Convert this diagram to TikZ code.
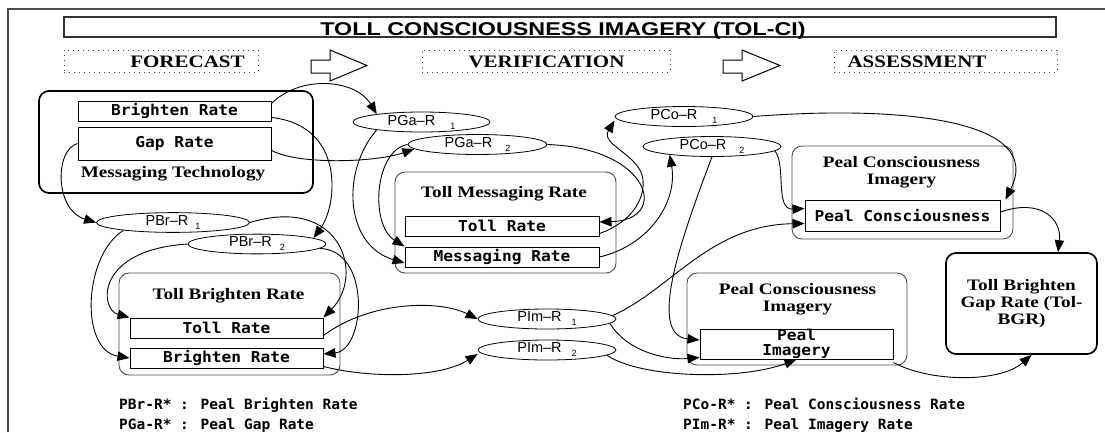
\documentclass[tikz,border=0pt]{standalone}
\usepackage{fontspec}
\setmainfont{Liberation Serif}
\newfontfamily\hfont[FakeStretch=1.2]{Liberation Serif}
\newfontfamily\tfont[FakeStretch=1.26]{Liberation Sans}
\newfontfamily\rfont[FakeStretch=1.08]{DejaVu Sans Mono}
\newfontfamily\lgfont[FakeStretch=1.02]{DejaVu Sans Mono}
\newfontfamily\efont{Liberation Sans}
\usetikzlibrary{arrows.meta,shapes.geometric}
\newcommand{\ellsub}[2]{\hspace{#1pt}\raisebox{-4pt}{\fontsize{9}{9}\selectfont #2}}
\begin{document}
\begin{tikzpicture}[x=1pt,y=-1pt,
  frame/.style={draw=black!70,line width=1.4pt},
  titlebox/.style={draw=black!80,line width=1.3pt,minimum width=992,minimum height=20,inner sep=0pt},
  titletext/.style={font=\tfont\bfseries\fontsize{18.5}{20}\selectfont,anchor=base,inner sep=0pt},
  hbox/.style={draw=black!75,line width=1pt,dash pattern=on 1pt off 4pt,minimum height=22,inner sep=0pt},
  htext/.style={font=\hfont\bfseries\fontsize{17.5}{20}\selectfont,anchor=base,inner sep=0pt},
  blockarrow/.style={draw=black,line width=1pt,line join=miter},
  mainbox/.style={draw=black,line width=1.7pt,rounded corners=10pt,inner sep=0pt},
  subbox/.style={draw=black!70,line width=0.9pt,rounded corners=10pt,inner sep=0pt},
  boxtitle/.style={font=\hfont\bfseries\fontsize{16}{17}\selectfont,inner sep=0pt,align=center},
  ratebox/.style={draw=black,line width=1pt,inner sep=0pt,align=center,font=\rfont\bfseries\fontsize{15}{16}\selectfont},
  pell/.style={ellipse,draw=black,line width=0.8pt,inner sep=0pt,font=\efont\fontsize{14.5}{14}\selectfont},
  conn/.style={line width=0.9pt,-{Triangle[length=12pt,width=9.5pt]}},
  legend/.style={font=\lgfont\bfseries\fontsize{14.2}{15}\selectfont,anchor=base west,inner sep=0pt}
]
\useasboundingbox (0,0) rectangle (1105,432);
\fill[white] (0,0) rectangle (1105,432);
% frame
\draw[frame] (8,432) -- (8,9) -- (1105,9);
% title
\node[titlebox] (titlebox) at (560,27) {};
\node[titletext] (title) at (563,35) {TOLL CONSCIOUSNESS IMAGERY (TOL-CI)};
% headings
\node[hbox,minimum width=194] (fcbox) at (161,61) {};
\node[htext] (fc) at (187.5,67.7) {FORECAST};
\node[hbox,minimum width=248] (vfbox) at (546,61) {};
\node[htext] (vf) at (546.5,67.7) {VERIFICATION};
\node[hbox,minimum width=223] (asbox) at (945.5,61) {};
\node[htext] (as) at (917,67.7) {ASSESSMENT};
% block arrows
\draw[blockarrow] (311,60) -- (330,60) -- (330,50) -- (367,65.5) -- (330,81) -- (330,73) -- (311,73) -- cycle;
\draw[blockarrow] (723,60) -- (742,60) -- (742,50) -- (780,65.5) -- (742,81) -- (742,73) -- (723,73) -- cycle;
% Messaging Technology
\node[mainbox,minimum width=274,minimum height=102] (mt) at (176,142) {};
\node[ratebox,minimum width=193,minimum height=20] (mtbr) at (174.5,111) {Brighten Rate};
\node[ratebox,minimum width=193,minimum height=33] (mtgr) at (174.5,143.5) {Gap Rate};
\node[boxtitle,anchor=base] (mtlabel) at (173,177) {Messaging Technology};
% Toll Messaging Rate
\node[subbox,minimum width=221,minimum height=101] (tmr) at (505.5,222.5) {};
\node[boxtitle,anchor=base] (tmrlabel) at (504,197) {Toll Messaging Rate};
\node[ratebox,minimum width=194,minimum height=20] (tmtr) at (502,226) {Toll Rate};
\node[ratebox,minimum width=194,minimum height=20] (tmmr) at (502,257) {Messaging Rate};
% Toll Brighten Rate
\node[subbox,minimum width=221,minimum height=102] (tbr) at (229.5,324) {};
\node[boxtitle,anchor=base] (tbrlabel) at (228.5,299) {Toll Brighten Rate};
\node[ratebox,minimum width=193,minimum height=20] (tbtr) at (226.5,328) {Toll Rate};
\node[ratebox,minimum width=193,minimum height=20] (tbbr) at (226.5,358) {Brighten Rate};
% Peal Consciousness Imagery (upper)
\node[subbox,minimum width=221,minimum height=93] (pcu) at (902.5,192.5) {};
\node[boxtitle] (pculabel) at (901.5,172.5) {Peal Consciousness\\Imagery};
\node[ratebox,minimum width=195,minimum height=31] (pc) at (902.5,215.5) {Peal Consciousness};
% Peal Consciousness Imagery (lower)
\node[subbox,minimum width=220,minimum height=92] (pcl) at (797,319) {};
\node[boxtitle] (pcllabel) at (797.5,299.5) {Peal Consciousness\\Imagery};
\node[ratebox,minimum width=193,minimum height=30,font=\rfont\bfseries\fontsize{15}{15.5}\selectfont] (pi) at (796.5,344) {Peal\\Imagery};
% Tol-BGR
\node[mainbox,minimum width=151,minimum height=101,align=center,font=\hfont\bfseries\fontsize{16}{17}\selectfont] (tbgr) at (1021.5,303.5) {Toll Brighten\\Gap Rate (Tol-\\BGR)};
% ellipses
\node[pell,minimum width=137,minimum height=18] (pga1) at (421.5,122) {PGa–R\ellsub{15}{1}};
\node[pell,minimum width=139,minimum height=17] (pga2) at (477.5,144.5) {PGa–R\ellsub{13}{2}};
\node[pell,minimum width=138,minimum height=19] (pco1) at (684,116.5) {PCo–R\ellsub{15}{1}};
\node[pell,minimum width=138,minimum height=19] (pco2) at (712,146.5) {PCo–R\ellsub{13}{2}};
\node[pell,minimum width=153,minimum height=19] (pbr1) at (173,222.5) {PBr–R\ellsub{7}{1}};
\node[pell,minimum width=138,minimum height=18] (pbr2) at (257,244) {PBr–R\ellsub{8}{2}};
\node[pell,minimum width=138,minimum height=20] (pim1) at (547,319) {PIm–R\ellsub{10}{1}};
\node[pell,minimum width=138,minimum height=20] (pim2) at (547,350) {PIm–R\ellsub{10}{2}};
% connectors
\draw[conn] ([yshift=-3pt]mtbr.north east) .. controls +(29,-29) and +(-21,-35) .. (pga1.170);
\draw[conn] ([yshift=4pt]mtbr.south east) .. controls +(74,8) and +(24,-33) .. (pbr2.6);
\draw[conn] ([yshift=10pt]mtgr.south east) .. controls +(29,15) and +(-37,13) .. (pga2.184);
\draw[conn] (mtgr.west) .. controls +(-23,6.5) and +(-41.5,-12.5) .. (pbr1.west);
\draw[conn] (pbr1.east) .. controls +(90.5,-27.5) and +(42,-43) .. (tbtr.north east);
\draw[conn] (pbr1.189) .. controls +(-40,25) and +(-50,-8) .. (tbbr.west);
\draw[conn] (pbr2.west) .. controls +(-93,6) and +(-30,-8) .. (tbtr.north west);
\draw[conn] (pbr2.356) .. controls +(52,2) and +(42,-4) .. ([yshift=4pt]tbbr.east);
\draw[conn] ([yshift=3pt]tbtr.south east) .. controls +(47,-35) and +(-38,-19) .. (pim1.west);
\draw[conn] ([yshift=2pt]tbbr.south east) .. controls +(47,12) and +(-38,24) .. ([yshift=-4pt]pim2.west);
\draw[conn] (pga1.190) .. controls +(-35.6,40.8) and +(-60,-18) .. ([yshift=-6pt]tmmr.west);
\draw[conn] (pga2.west) .. controls +(-33,5.5) and +(-35,-22) .. (tmmr.north west);
\draw[conn] (pga2.east) .. controls +(103,3.5) and +(71,-2) .. ([yshift=4pt]tmtr.east);
\draw[conn] ([yshift=3pt]tmtr.south east) .. controls +(31,-11) and +(2,20) .. (643,180) .. controls +(-2,-25) and +(-15,24.5) .. ([yshift=-4pt]pco1.west);
\draw[conn] (tmmr.east) .. controls +(51,-12) and +(8,46) .. (pco2.191);
\draw[conn] (pco1.east) .. controls +(147,-11.5) and +(40,-80) .. ([xshift=5pt]pc.north east);
\draw[conn] (pco2.356) .. controls +(11.5,14) and +(-30,1.5) .. ([yshift=7pt]pc.west);
\draw[conn] (pco2.south) .. controls +(-32,84) and +(-52,-5) .. ([yshift=4pt]pi.west);
\draw[conn] (pim1.3) .. controls +(58,-25.6) and +(-95,1.5) .. ([yshift=-8pt]pc.west);
\draw[conn] (pim1.356) .. controls +(16,27) and +(-35,3) .. ([yshift=2pt]pi.south west);
\draw[conn] (pim2.355) .. controls +(34,23) and +(-56.5,21) .. (pi.south);
\draw[conn] ([yshift=3.5pt]pc.east) .. controls +(40,-14) and +(4,-33) .. ([xshift=36.5pt]tbgr.north);
\draw[conn] ([yshift=-3pt]pi.south east) .. controls +(37,20) and +(-31.5,28) .. ([xshift=10pt]tbgr.south);
% legend
\node[legend] (lg1) at (119,409.3) {PBr-R* : Peal Brighten Rate};
\node[legend] (lg2) at (119,429.3) {PGa-R* : Peal Gap Rate};
\node[legend] (lg3) at (683,409.3) {PCo-R* : Peal Consciousness Rate};
\node[legend] (lg4) at (683,429.3) {PIm-R* : Peal Imagery Rate};
\end{tikzpicture}
\end{document}
